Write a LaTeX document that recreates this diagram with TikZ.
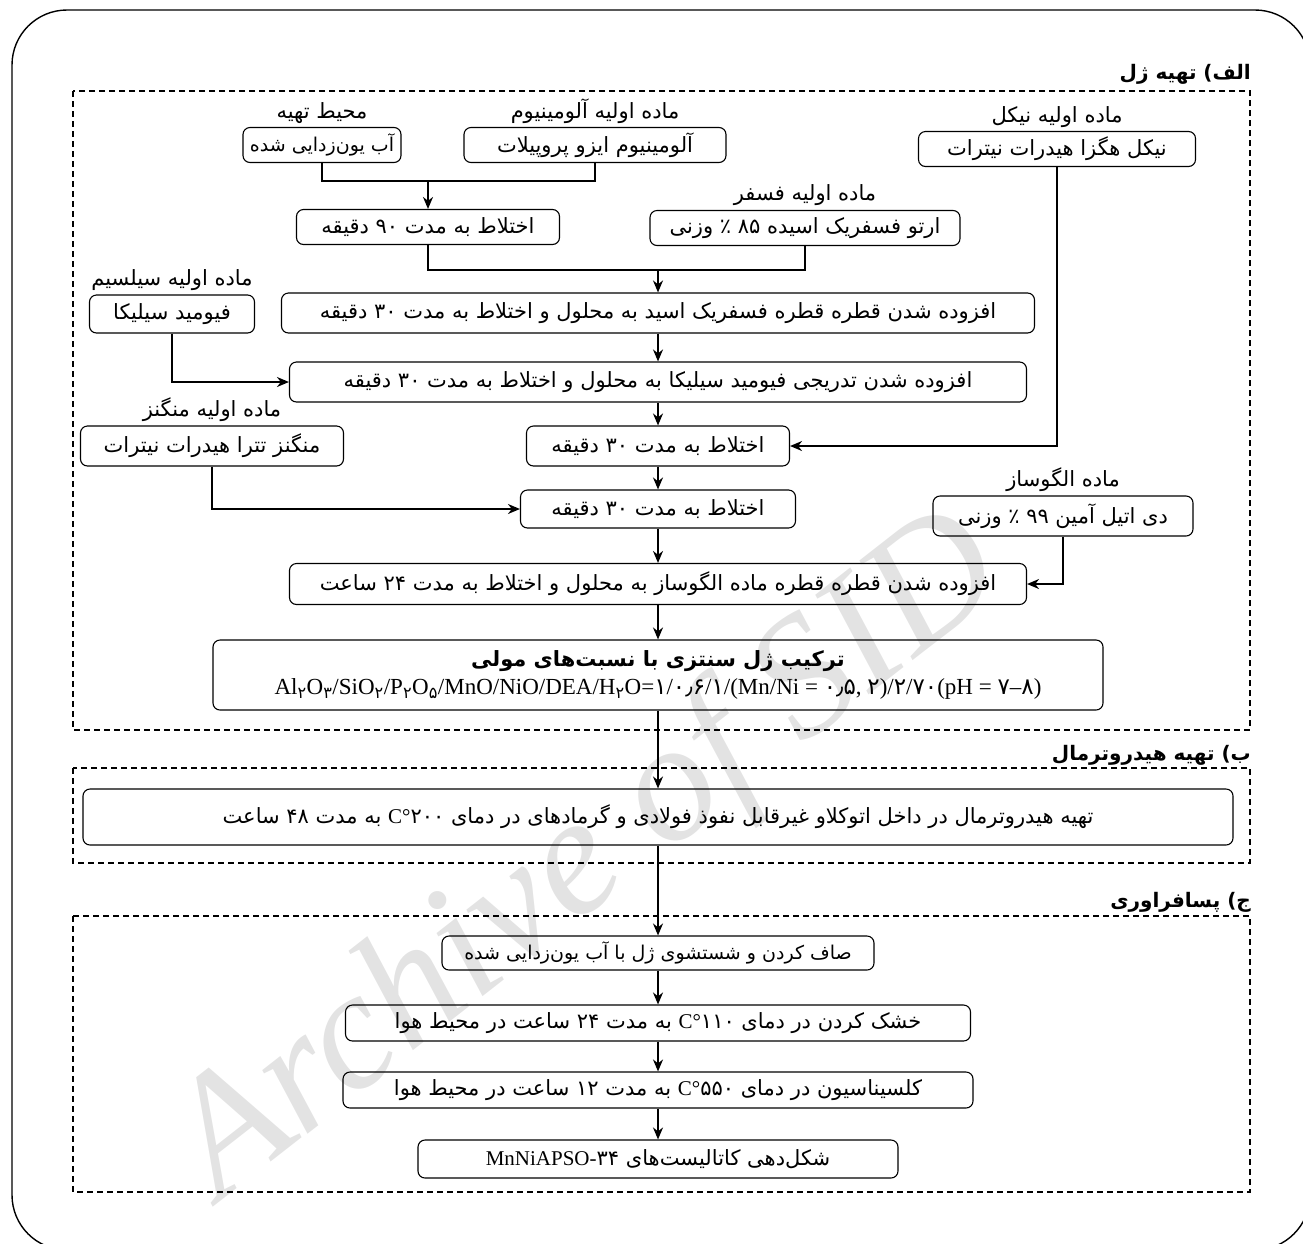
\documentclass[tikz,border=0pt]{standalone}
\usepackage{fontspec}
\setmainfont{Liberation Serif}
\newfontfamily\fa[Script=Arabic]{DejaVu Sans}
\TeXXeTstate=1
\usetikzlibrary{shapes, arrows, arrows.meta, positioning}
\newcommand{\rtl}[1]{{\fa\beginR #1\endR}}
\newcommand{\pd}[1]{{\fa #1}}
\newcommand{\lat}[1]{{\rmfamily #1}}
\newcommand{\subd}[1]{\textsubscript{\fa #1}}
\tikzstyle{proc} = [draw, rounded corners=7pt, line width=1.1pt, minimum height=35pt, inner sep=3pt, font=\fontsize{21}{25}\selectfont]
\tikzstyle{lbl} = [inner sep=1pt, font=\fontsize{21}{25}\selectfont]
\tikzstyle{sectitle} = [anchor=east, inner sep=1pt, font=\fontsize{20}{24}\selectfont\bfseries]
\tikzstyle{sect} = [draw, line width=1.6pt, dash pattern=on 6pt off 4pt]
\tikzstyle{link} = [draw, line width=1.8pt]
\tikzstyle{flow} = [link, -{Stealth[length=12pt, width=10pt]}]
\tikzstyle{wm} = [text=gray!22, rotate=38, font=\fontsize{170}{170}\selectfont\itshape]

\begin{document}
\begin{tikzpicture}[x=1pt, y=-1pt]
	\useasboundingbox (0,0) rectangle (1303,1243);
	\clip (0,0) rectangle (1303,1243);
	\node[wm] (wmark) at (590,860) {Archive of SID};
	\draw[line width=1.4pt, rounded corners=55pt] (12,10) rectangle (1310,1250);

	% --- gel preparation
	\node[sectitle] (tA) at (1252,74) {\rtl{الف) تهیه ژل}};
	\draw[sect] (73,91) rectangle (1250,730);

	\node[proc, minimum width=158pt, font=\fontsize{19}{23}\selectfont] (water) at (322,145) {\rtl{آب یون‌زدایی شده}};
	\node[proc, minimum width=262pt] (alum) at (595,145) {\rtl{آلومینیوم ایزو پروپیلات}};
	\node[proc, minimum width=277pt] (nickel) at (1057,149) {\rtl{نیکل هگزا هیدرات نیترات}};
	\node[lbl, above=2pt of water] (lwater) {\rtl{محیط تهیه}};
	\node[lbl, above=2pt of alum] (lalum) {\rtl{ماده اولیه آلومینیوم}};
	\node[lbl, above=2pt of nickel] (lnickel) {\rtl{ماده اولیه نیکل}};

	\node[proc, minimum width=263pt] (mix90) at (428,227) {\rtl{اختلاط به مدت ۹۰ دقیقه}};
	\node[proc, minimum width=310pt] (phos) at (805,228) {\rtl{ارتو فسفریک اسیده ۸۵ ٪ وزنی}};
	\node[lbl, above=3pt of phos] (lphos) {\rtl{ماده اولیه فسفر}};

	\node[proc, minimum width=753pt, minimum height=40pt] (padd) at (658,313) {\rtl{افزوده شدن قطره قطره فسفریک اسید به محلول و اختلاط به مدت ۳۰ دقیقه}};
	\node[proc, minimum width=165pt, minimum height=38pt] (silica) at (172,314) {\rtl{فیومید سیلیکا}};
	\node[lbl, above=3pt of silica] (lsilica) {\rtl{ماده اولیه سیلسیم}};
	\node[proc, minimum width=737pt, minimum height=40pt] (siadd) at (658,382) {\rtl{افزوده شدن تدریجی فیومید سیلیکا به محلول و اختلاط به مدت ۳۰ دقیقه}};

	\node[proc, minimum width=263pt, minimum height=40pt] (mang) at (212,446) {\rtl{منگنز تترا هیدرات نیترات}};
	\node[lbl, above=3pt of mang] (lmang) {\rtl{ماده اولیه منگنز}};
	\node[proc, minimum width=263pt, minimum height=40pt] (mix30a) at (658,446) {\rtl{اختلاط به مدت ۳۰ دقیقه}};
	\node[proc, minimum width=275pt, minimum height=38pt] (mix30b) at (658,509) {\rtl{اختلاط به مدت ۳۰ دقیقه}};
	\node[proc, minimum width=260pt, minimum height=40pt] (dea) at (1063,516) {\rtl{دی اتیل آمین ۹۹ ٪ وزنی}};
	\node[lbl, above=3pt of dea] (ldea) {\rtl{ماده الگوساز}};

	\node[proc, minimum width=737pt, minimum height=41pt] (templ) at (658,584) {\rtl{افزوده شدن قطره قطره ماده الگوساز به محلول و اختلاط به مدت ۲۴ ساعت}};
	\node[proc, minimum width=890pt, minimum height=70pt, align=center, inner ysep=5pt] (gel) at (658,675) {{\bfseries\rtl{ترکیب ژل سنتزی با نسبت‌های مولی}}\\[3pt]
		{\fontsize{23}{26}\selectfont Al\subd{۲}O\subd{۳}/SiO\subd{۲}/P\subd{۲}O\subd{۵}/MnO/NiO/DEA/H\subd{۲}O=\pd{۱}/\pd{۰٫۶}/\pd{۱}/(Mn/Ni = \pd{۰٫۵}, \pd{۲})/\pd{۲}/\pd{۷۰}(pH = \pd{۷}–\pd{۸})}};

	\coordinate (j1) at (428,181);
	\draw[link] (water.south) |- (j1) -| (alum.south);
	\draw[flow] (j1) -- (mix90.north);
	\coordinate (j2) at (658,270);
	\draw[link] (mix90.south) |- (j2) -| (phos.south);
	\draw[flow] (j2) -- (padd.north);
	\draw[flow] (padd) -- (siadd);
	\draw[flow] (silica.south) |- (siadd.west);
	\draw[flow] (siadd) -- (mix30a);
	\draw[flow] (nickel.south) |- (mix30a.east);
	\draw[flow] (mix30a) -- (mix30b);
	\draw[flow] (mang.south) |- (mix30b.west);
	\draw[flow] (mix30b) -- (templ);
	\draw[flow] (dea.south) |- (templ.east);
	\draw[flow] (templ) -- (gel);

	% --- hydrothermal
	\node[sectitle] (tB) at (1252,755) {\rtl{ب) تهیه هیدروترمال}};
	\draw[sect] (73,768) rectangle (1250,863);
	\node[proc, minimum width=1150pt, minimum height=56pt] (hydro) at (658,817) {\rtl{تهیه هیدروترمال در داخل اتوکلاو غیرقابل نفوذ فولادی و گرمادهای در دمای ۲۰۰\lat{C°} به مدت ۴۸ ساعت}};
	\draw[flow] (gel) -- (hydro);

	% --- post treatment
	\node[sectitle] (tC) at (1252,902) {\rtl{ج) پسافراوری}};
	\draw[sect] (73,916) rectangle (1250,1192);
	\node[proc, minimum width=432pt, minimum height=34pt, font=\fontsize{19}{23}\selectfont] (wash) at (658,953) {\rtl{صاف کردن و شستشوی ژل با آب یون‌زدایی شده}};
	\node[proc, minimum width=625pt, minimum height=36pt] (dry) at (658,1023) {\rtl{خشک کردن در دمای ۱۱۰\lat{C°} به مدت ۲۴ ساعت در محیط هوا}};
	\node[proc, minimum width=630pt, minimum height=36pt] (calc) at (658,1090) {\rtl{کلسیناسیون در دمای ۵۵۰\lat{C°} به مدت ۱۲ ساعت در محیط هوا}};
	\node[proc, minimum width=480pt, minimum height=38pt] (shape) at (658,1159) {\rtl{شکل‌دهی کاتالیست‌های \beginL\lat{MnNiAPSO-}\pd{۳۴}\endL}};
	\draw[flow] (hydro) -- (wash);
	\draw[flow] (wash) -- (dry);
	\draw[flow] (dry) -- (calc);
	\draw[flow] (calc) -- (shape);
\end{tikzpicture}
\end{document}
